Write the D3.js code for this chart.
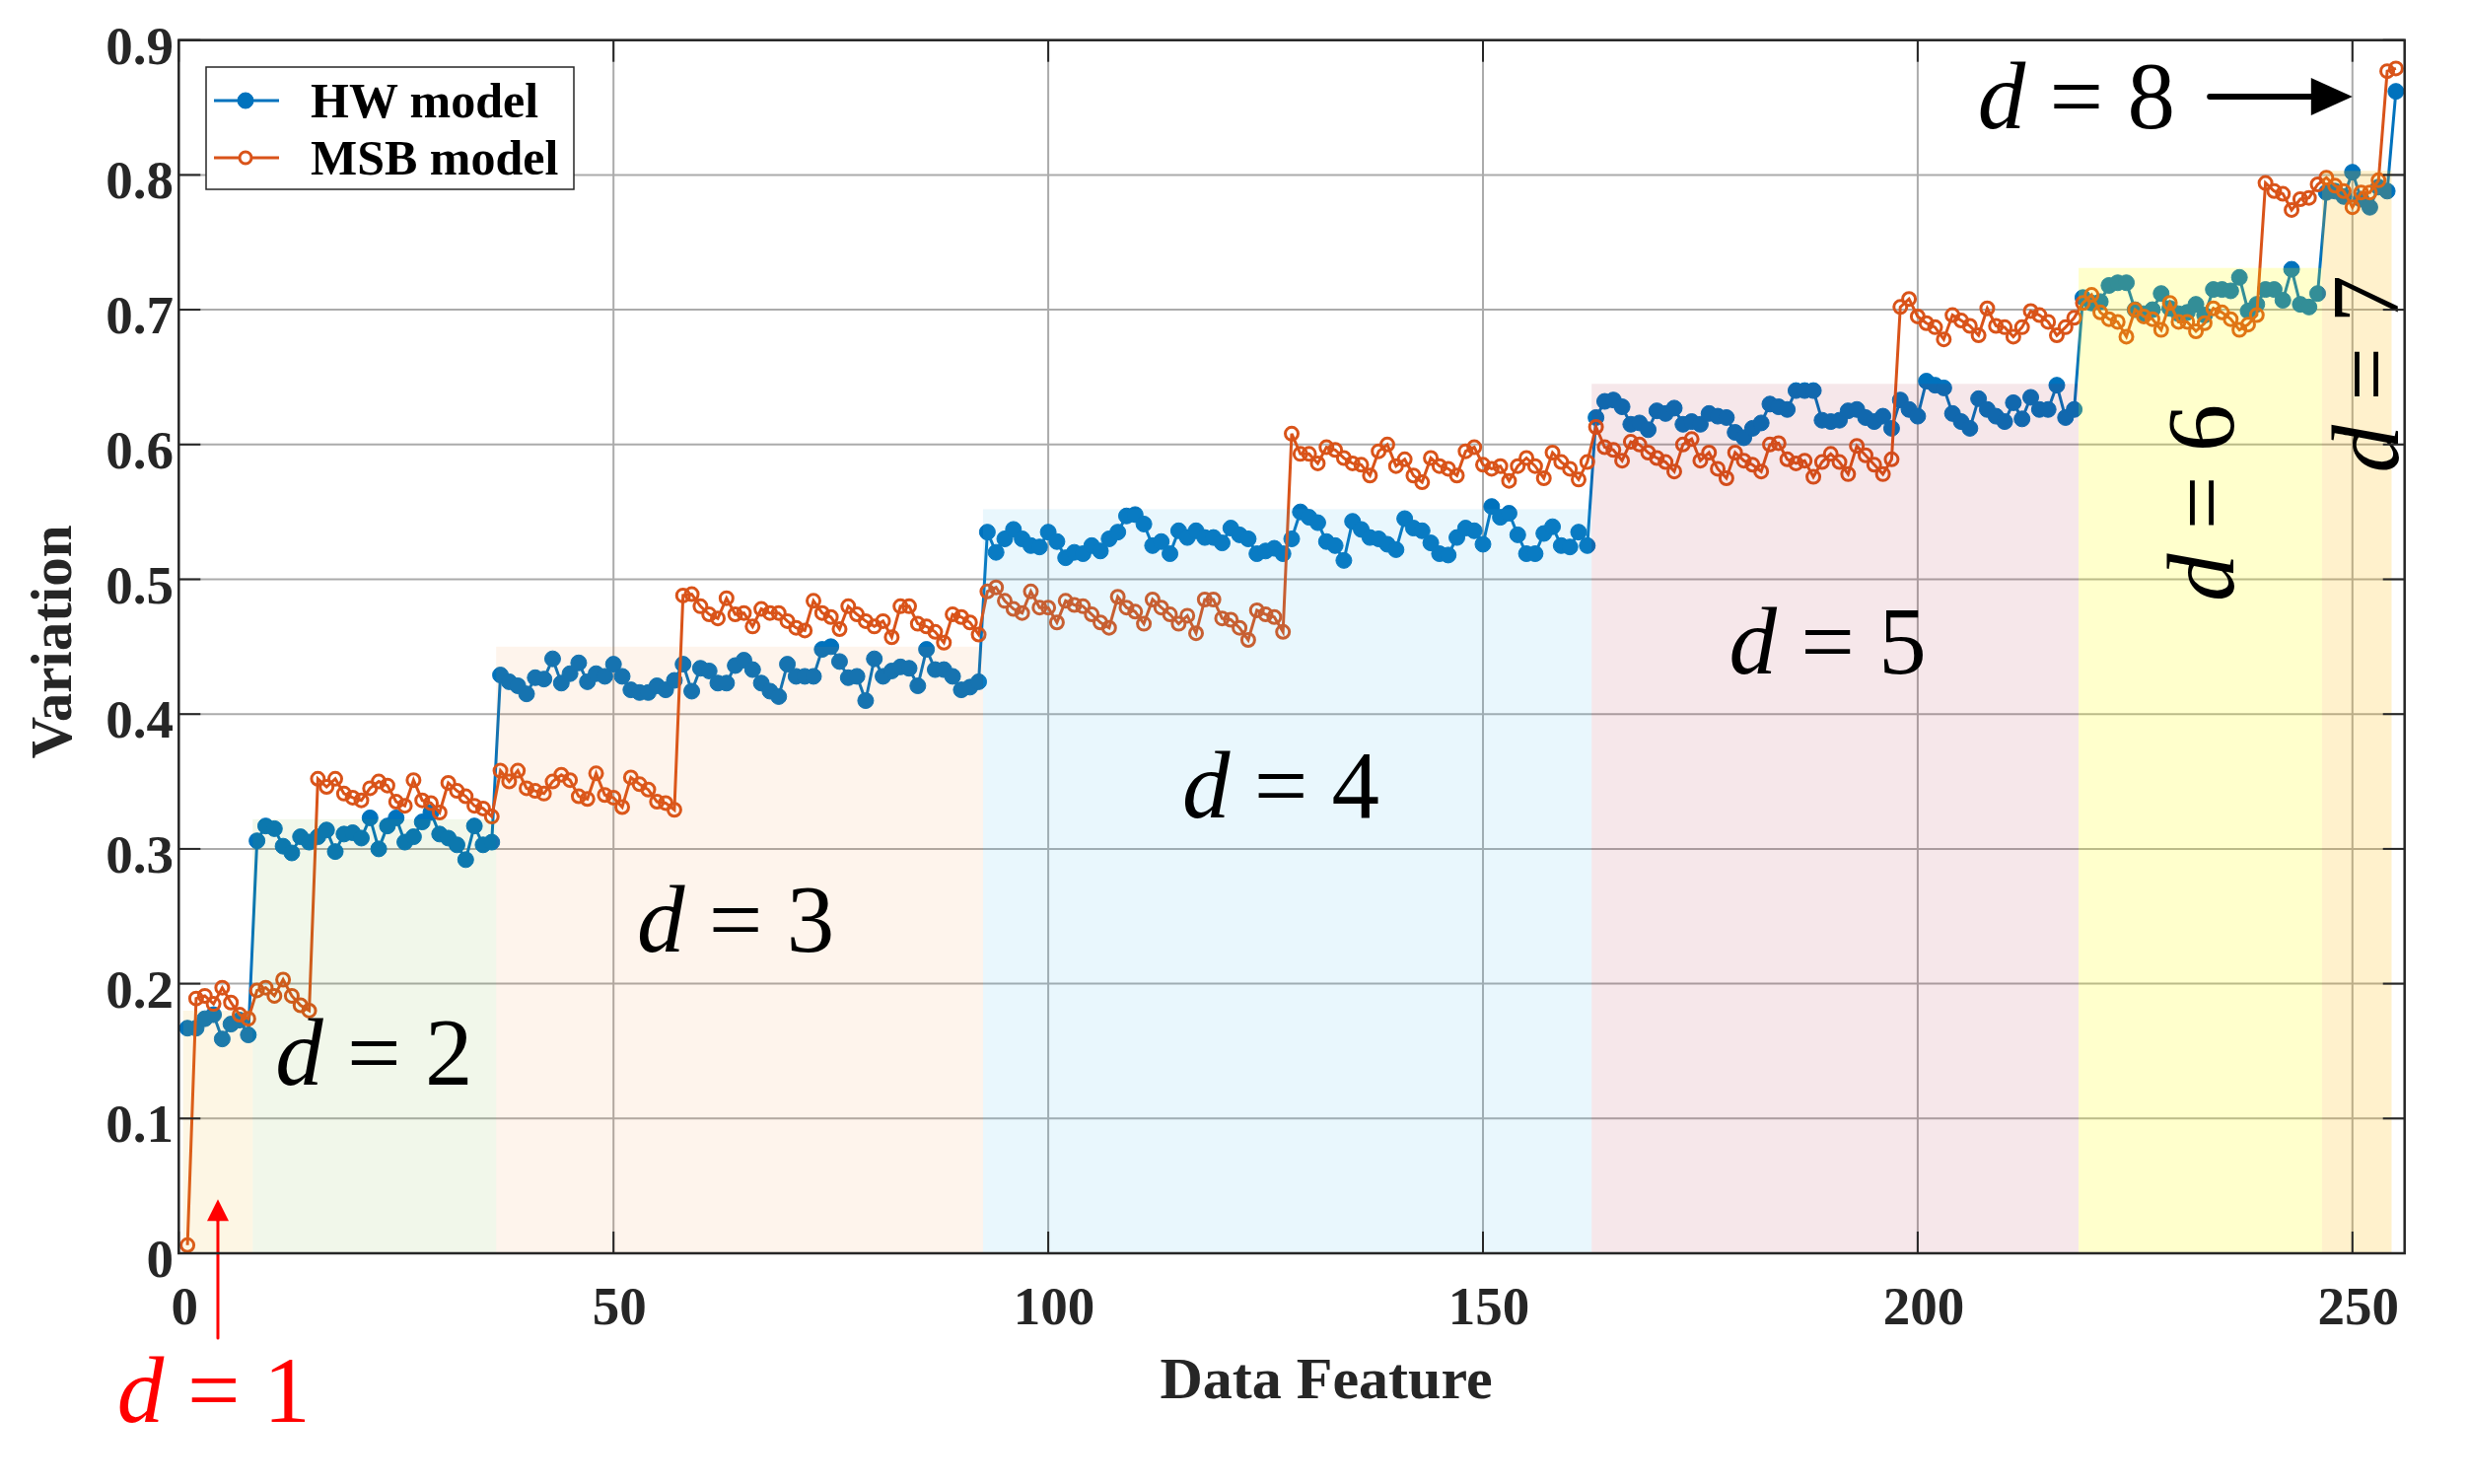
<!DOCTYPE html>
<html>
<head>
<meta charset="utf-8">
<script src="https://cdn.jsdelivr.net/npm/d3@7/dist/d3.min.js"></script>
<style>
body { margin: 0; background: #ffffff; }
</style>
</head>
<body>
<div id="chart"></div>
<script>
// values, feature index 1..255
var hwModel = [
	0.167, 0.167, 0.174, 0.177, 0.159, 0.170, 0.173, 0.162,
	0.306, 0.317, 0.315, 0.302, 0.297, 0.309, 0.305, 0.309, 0.314, 0.298, 0.311, 0.312, 0.308, 0.323, 0.300, 0.317,
	0.323, 0.305, 0.309, 0.320, 0.327, 0.311, 0.308, 0.303, 0.292, 0.317, 0.303, 0.305,
	0.429, 0.424, 0.421, 0.415, 0.427, 0.426, 0.441, 0.423,
	0.430, 0.438, 0.424, 0.430, 0.428, 0.437, 0.428, 0.418, 0.416, 0.416, 0.421, 0.418, 0.425, 0.437, 0.417, 0.434,
	0.432, 0.423, 0.423, 0.436, 0.440, 0.433, 0.423, 0.417, 0.413, 0.437, 0.428, 0.428, 0.428, 0.448, 0.450, 0.439,
	0.427, 0.428, 0.410, 0.441, 0.428, 0.432, 0.435, 0.434, 0.421, 0.448, 0.433, 0.433, 0.428, 0.418, 0.420, 0.424,
	0.535, 0.520, 0.530, 0.537, 0.530, 0.525, 0.524, 0.535, 0.528, 0.516, 0.520, 0.519, 0.525, 0.521, 0.530, 0.535,
	0.547, 0.548, 0.541, 0.525, 0.528, 0.519, 0.536, 0.531, 0.536, 0.531, 0.531, 0.527, 0.538, 0.533, 0.530, 0.519,
	0.521, 0.523, 0.519, 0.530, 0.550, 0.546, 0.542, 0.528, 0.525, 0.514, 0.543,
	0.537, 0.531, 0.530, 0.526, 0.522, 0.545, 0.538, 0.536, 0.527, 0.519, 0.518, 0.531, 0.538, 0.536, 0.526, 0.554,
	0.546, 0.549, 0.533, 0.519, 0.519, 0.534, 0.539, 0.525, 0.524, 0.535, 0.525,
	0.620, 0.632, 0.633, 0.628, 0.615, 0.616, 0.611, 0.625, 0.623, 0.627, 0.615, 0.617, 0.615, 0.623, 0.621, 0.620,
	0.609, 0.605, 0.612, 0.616, 0.630,
	0.628, 0.626, 0.640, 0.640, 0.640, 0.618, 0.617, 0.618, 0.625, 0.626, 0.620, 0.617, 0.621, 0.612, 0.633, 0.626,
	0.621, 0.647, 0.644, 0.642, 0.623, 0.617, 0.612, 0.634, 0.626, 0.621, 0.617, 0.631, 0.619, 0.635, 0.626, 0.626,
	0.644, 0.620, 0.626,
	0.709, 0.705, 0.706, 0.718, 0.720, 0.720, 0.700, 0.697, 0.700, 0.712, 0.701, 0.697, 0.698, 0.704, 0.696, 0.715,
	0.715, 0.714, 0.724, 0.699, 0.704, 0.715, 0.715, 0.707, 0.730, 0.704, 0.702, 0.712,
	0.787, 0.788, 0.784, 0.802, 0.782, 0.776, 0.791, 0.788,
	0.862
];
var msbModel = [
	0.006, 0.189, 0.191, 0.185, 0.197, 0.186, 0.177, 0.174,
	0.195, 0.197, 0.191, 0.203, 0.191, 0.184, 0.180,
	0.352, 0.346, 0.352, 0.341, 0.338, 0.336, 0.345, 0.350, 0.347, 0.335, 0.332, 0.351, 0.336, 0.334, 0.327, 0.349,
	0.343, 0.339, 0.332, 0.330, 0.324,
	0.358, 0.350, 0.358, 0.345, 0.343, 0.341, 0.350, 0.355,
	0.351, 0.339, 0.337, 0.356, 0.340, 0.338, 0.331, 0.353, 0.348, 0.344, 0.335, 0.334, 0.329,
	0.488, 0.489, 0.480, 0.474, 0.471, 0.486, 0.474, 0.475, 0.465, 0.478, 0.475, 0.475, 0.469, 0.464, 0.462, 0.484,
	0.475, 0.472, 0.463, 0.480, 0.474, 0.469, 0.465, 0.469, 0.457, 0.480, 0.480, 0.467, 0.465, 0.461, 0.453, 0.474,
	0.472, 0.468, 0.459,
	0.491, 0.494, 0.484, 0.478, 0.475, 0.491, 0.479, 0.479, 0.468, 0.484, 0.481, 0.480, 0.474, 0.468, 0.464, 0.487,
	0.479, 0.476, 0.467, 0.485, 0.479, 0.474, 0.467, 0.473, 0.460, 0.485, 0.485, 0.471, 0.470, 0.464, 0.455, 0.477,
	0.474, 0.472, 0.461,
	0.608, 0.593, 0.593, 0.586, 0.598, 0.596, 0.590, 0.586, 0.585, 0.577, 0.595,
	0.600, 0.584, 0.589, 0.577, 0.572, 0.590, 0.584, 0.582, 0.577, 0.595, 0.598, 0.585, 0.582, 0.584, 0.573, 0.584,
	0.590, 0.584, 0.575, 0.594, 0.587, 0.582, 0.574, 0.587,
	0.613, 0.598, 0.596, 0.588, 0.602, 0.600, 0.594, 0.590, 0.587, 0.580, 0.600, 0.604, 0.588, 0.594, 0.582, 0.575,
	0.594, 0.588, 0.585, 0.580, 0.600,
	0.601, 0.589, 0.586, 0.588, 0.576, 0.587, 0.593, 0.587, 0.578, 0.599, 0.592, 0.585, 0.578, 0.589,
	0.702, 0.708, 0.695, 0.690, 0.687, 0.678, 0.696, 0.692, 0.688, 0.681, 0.701, 0.688, 0.687, 0.680, 0.687, 0.699,
	0.696, 0.691, 0.681, 0.687, 0.694,
	0.705, 0.711, 0.698, 0.693, 0.691, 0.680, 0.700, 0.695, 0.693, 0.685, 0.705, 0.691, 0.691, 0.684, 0.690, 0.701,
	0.698, 0.693, 0.685, 0.689, 0.696,
	0.794, 0.788, 0.786, 0.774, 0.782, 0.783, 0.793,
	0.798, 0.792, 0.788, 0.776, 0.787, 0.787, 0.796,
	0.877, 0.879
];
var seriesNames = ['HW model', 'MSB model'];
var xTicks = [0, 50, 100, 150, 200, 250];
var yTicks = [0, 0.1, 0.2, 0.3, 0.4, 0.5, 0.6, 0.7, 0.8, 0.9];
var yTickLabels = ['0', '0.1', '0.2', '0.3', '0.4', '0.5', '0.6', '0.7', '0.8', '0.9'];

// Hamming distance groups
var groupNames = ['1', '2', '3', '4', '5', '6', '7'];
var groupStart = [0.5, 8.5, 36.5, 92.5, 162.5, 218.5, 246.5];
var groupEnd = [8.5, 36.5, 92.5, 162.5, 218.5, 246.5, 254.5];
var groupTop = [0.18, 0.322, 0.45, 0.552, 0.645, 0.731, 0.803];

var W = 2504, H = 1505;
var plot = {left: 181.3, right: 2438.7, top: 40.7, bottom: 1271};
var lineColors = ['#0072BD', '#D95319'];
var bandColors = ['#EDB120', '#77AC30', '#F08030', '#4DBEEE', '#A2142F', '#FFFF00', '#FFB800'];
var bandAlpha = [0.12, 0.1, 0.09, 0.12, 0.1, 0.2, 0.2];
var serif = '"Liberation Serif", "Times New Roman", serif';
var axisColor = '#262626';

var x = d3.scaleLinear().domain([0, 256]).range([plot.left, plot.right]);
var y = d3.scaleLinear().domain([0, 0.9]).range([plot.bottom, plot.top]);

var svg = d3.select('#chart').append('svg')
	.attr('width', W).attr('height', H)
	.style('display', 'block');

svg.append('defs').append('clipPath').attr('id', 'plotClip')
	.append('rect')
	.attr('x', plot.left).attr('y', plot.top)
	.attr('width', plot.right - plot.left).attr('height', plot.bottom - plot.top);

// grid
var grid_g = svg.append('g');
grid_g.selectAll('.gx').data(xTicks.slice(1)).enter().append('line')
	.attr('x1', function(d){ return x(d); }).attr('x2', function(d){ return x(d); })
	.attr('y1', plot.top).attr('y2', plot.bottom)
	.attr('stroke', '#ababab').attr('stroke-width', 2);
grid_g.selectAll('.gy').data(yTicks.slice(1)).enter().append('line')
	.attr('y1', function(d){ return y(d); }).attr('y2', function(d){ return y(d); })
	.attr('x1', plot.left).attr('x2', plot.right)
	.attr('stroke', '#ababab').attr('stroke-width', 2);

// series
var series = [hwModel, msbModel];
var line = d3.line()
	.x(function(d, i){ return x(i + 1); })
	.y(function(d){ return y(d); });

var data_g = svg.append('g').attr('clip-path', 'url(#plotClip)');
series.forEach(function(values, s){
	data_g.append('path')
		.datum(values)
		.attr('d', line)
		.attr('fill', 'none')
		.attr('stroke', lineColors[s])
		.attr('stroke-width', 3);
	data_g.selectAll('.m' + s).data(values).enter().append('circle')
		.attr('cx', function(d, i){ return x(i + 1); })
		.attr('cy', function(d){ return y(d); })
		.attr('r', s === 0 ? 8 : 6.5)
		.attr('fill', s === 0 ? lineColors[s] : 'none')
		.attr('stroke', lineColors[s])
		.attr('stroke-width', s === 0 ? 1 : 3);
});

// shaded groups drawn over the data, as in the original
svg.append('g').selectAll('rect').data(groupNames).enter().append('rect')
	.attr('x', function(d, i){ return x(groupStart[i]); })
	.attr('width', function(d, i){ return x(groupEnd[i]) - x(groupStart[i]); })
	.attr('y', function(d, i){ return y(groupTop[i]); })
	.attr('height', function(d, i){ return y(0) - y(groupTop[i]); })
	.attr('fill', function(d, i){ return bandColors[i]; })
	.attr('fill-opacity', function(d, i){ return bandAlpha[i]; });

// group annotations, positions in data units
var notes = [
	{g: 0, x: -7.1, y: -0.125, rot: false, color: '#ff0000', size: 95},
	{g: 1, x: 11.1, y: 0.125, rot: false, color: '#000000', size: 97},
	{g: 2, x: 52.7, y: 0.224, rot: false, color: '#000000', size: 97},
	{g: 3, x: 115.4, y: 0.323, rot: false, color: '#000000', size: 97},
	{g: 4, x: 178.3, y: 0.430, rot: false, color: '#000000', size: 97},
	{g: 5, x: 236.3, y: 0.4835, rot: true, color: '#000000', size: 97},
	{g: 6, x: 255.2, y: 0.579, rot: true, color: '#000000', size: 97}
];
var note_g = svg.append('g');
notes.forEach(function(n){
	var t = note_g.append('text')
		.attr('font-family', serif)
		.attr('font-size', n.size)
		.attr('fill', n.color)
		.attr('transform', 'translate(' + [x(n.x), y(n.y)] + ')' + (n.rot ? ' rotate(-90)' : ''));
	t.append('tspan').attr('font-style', 'italic').text('d');
	t.append('tspan').text(' = ' + groupNames[n.g]);
});
var t8 = note_g.append('text')
	.attr('font-family', serif).attr('font-size', 97).attr('fill', '#000')
	.attr('x', x(206.9)).attr('y', y(0.835));
t8.append('tspan').attr('font-style', 'italic').text('d');
t8.append('tspan').text(' = 8');

// arrows
function arrow(x1, y1, x2, y2, color, width, headLen, headHalf){
	var ang = Math.atan2(y2 - y1, x2 - x1);
	var bx = x2 - headLen * Math.cos(ang), by = y2 - headLen * Math.sin(ang);
	note_g.append('line')
		.attr('x1', x1).attr('y1', y1).attr('x2', bx).attr('y2', by)
		.attr('stroke', color).attr('stroke-width', width).attr('stroke-linecap', 'round');
	var px = -Math.sin(ang) * headHalf, py = Math.cos(ang) * headHalf;
	note_g.append('path')
		.attr('d', 'M' + [x2, y2] + 'L' + [bx + px, by + py] + 'L' + [bx - px, by - py] + 'Z')
		.attr('fill', color);
}
arrow(x(233.6), y(0.858), x(250.0), y(0.858), '#000000', 6, 42, 19);
arrow(x(4.5), y(-0.063), x(4.5), y(0.040), '#ff0000', 3, 22, 11);

// axes box and ticks
var axis_g = svg.append('g');
axis_g.append('rect')
	.attr('x', plot.left).attr('y', plot.top)
	.attr('width', plot.right - plot.left).attr('height', plot.bottom - plot.top)
	.attr('fill', 'none').attr('stroke', axisColor).attr('stroke-width', 2.5);
var tickLen = 22;
xTicks.forEach(function(d){
	axis_g.append('line').attr('x1', x(d)).attr('x2', x(d))
		.attr('y1', plot.bottom).attr('y2', plot.bottom - tickLen)
		.attr('stroke', axisColor).attr('stroke-width', 2);
	axis_g.append('line').attr('x1', x(d)).attr('x2', x(d))
		.attr('y1', plot.top).attr('y2', plot.top + tickLen)
		.attr('stroke', axisColor).attr('stroke-width', 2);
});
yTicks.forEach(function(d){
	axis_g.append('line').attr('y1', y(d)).attr('y2', y(d))
		.attr('x1', plot.left).attr('x2', plot.left + tickLen)
		.attr('stroke', axisColor).attr('stroke-width', 2);
	axis_g.append('line').attr('y1', y(d)).attr('y2', y(d))
		.attr('x1', plot.right).attr('x2', plot.right - tickLen)
		.attr('stroke', axisColor).attr('stroke-width', 2);
});

axis_g.selectAll('.xl').data(xTicks).enter().append('text')
	.attr('x', function(d){ return x(d) + 6; })
	.attr('y', 1343)
	.attr('text-anchor', 'middle')
	.attr('font-family', serif).attr('font-weight', 'bold').attr('font-size', 55)
	.attr('fill', axisColor)
	.text(function(d){ return d; });
axis_g.selectAll('.yl').data(yTicks).enter().append('text')
	.attr('x', 176)
	.attr('y', function(d){ return y(d) + 24; })
	.attr('text-anchor', 'end')
	.attr('font-family', serif).attr('font-weight', 'bold').attr('font-size', 55)
	.attr('fill', axisColor)
	.text(function(d, i){ return yTickLabels[i]; });

axis_g.append('text')
	.attr('x', 1345).attr('y', 1418)
	.attr('text-anchor', 'middle')
	.attr('font-family', serif).attr('font-weight', 'bold').attr('font-size', 60)
	.attr('fill', axisColor)
	.text('Data Feature');
axis_g.append('text')
	.attr('transform', 'translate(' + [72, 651] + ') rotate(-90)')
	.attr('text-anchor', 'middle')
	.attr('font-family', serif).attr('font-weight', 'bold').attr('font-size', 59)
	.attr('fill', axisColor)
	.text('Variation');

// legend
var leg = svg.append('g').attr('transform', 'translate(' + [209, 68] + ')');
leg.append('rect')
	.attr('width', 373).attr('height', 124)
	.attr('fill', '#ffffff').attr('stroke', axisColor).attr('stroke-width', 1.5);
seriesNames.forEach(function(name, s){
	var ly = 34 + s * 58;
	leg.append('line').attr('x1', 8).attr('x2', 74).attr('y1', ly).attr('y2', ly)
		.attr('stroke', lineColors[s]).attr('stroke-width', 3);
	leg.append('circle').attr('cx', 40).attr('cy', ly)
		.attr('r', s === 0 ? 8 : 6)
		.attr('fill', s === 0 ? lineColors[s] : '#ffffff')
		.attr('stroke', lineColors[s]).attr('stroke-width', s === 0 ? 1 : 3);
	leg.append('text')
		.attr('x', 106).attr('y', ly + 17)
		.attr('font-family', serif).attr('font-weight', 'bold').attr('font-size', 50)
		.attr('fill', '#000000')
		.text(name);
});
</script>
</body>
</html>
